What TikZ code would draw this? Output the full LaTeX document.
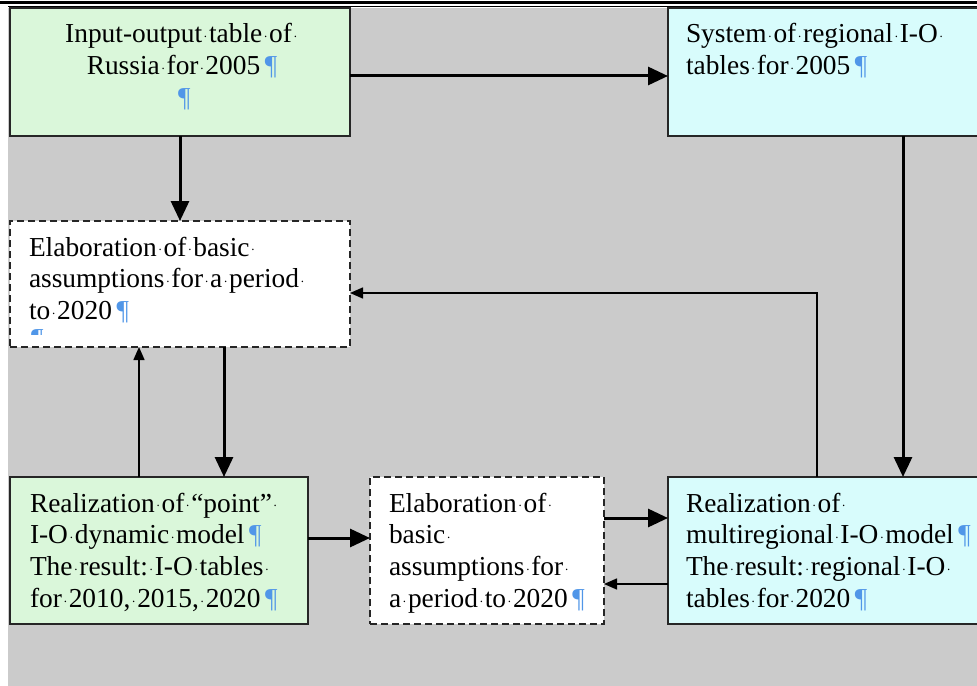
\documentclass[tikz,border=0pt]{standalone}
\usepackage{fontspec}
\setmainfont{Liberation Serif}
\usetikzlibrary{arrows.meta}
\definecolor{bg}{RGB}{203,203,203}
\definecolor{gfill}{RGB}{218,247,218}
\definecolor{cfill}{RGB}{216,252,252}
\definecolor{pil}{RGB}{80,150,232}
\newcommand\spc{\makebox[0.25em]{\raisebox{0.2em}{\fontsize{13}{13}\selectfont.}}}
\newcommand\pil{\,{\color{pil}¶}}
\begin{document}
\begin{tikzpicture}[x=1bp,y=-1bp,
  every node/.style={inner sep=0pt, outer sep=0pt},
  box/.style={draw=black!85, line width=1.5bp, rectangle, anchor=north west},
  gbox/.style={box, fill=gfill},
  cbox/.style={box, fill=cfill},
  dbox/.style={box, fill=white, dash pattern=on 7bp off 4bp},
  txt/.style={font=\fontsize{27.5}{32}\selectfont, anchor=base west, align=left, text width=330bp},
  bigarrow/.style={line width=3bp, -{Triangle[length=20bp,width=18bp]}},
  smallarrow/.style={line width=1.5bp, -{Triangle[length=13bp,width=11bp]}},
]
\clip (0,0) rectangle (977,686);
\fill[white] (0,0) rectangle (977,686);
\fill[bg] (8,8) rectangle (977,686);
\draw[line width=3bp] (0,3) -- (977,3);
\draw[line width=1bp] (8,7) -- (977,7);

% boxes
\node[gbox, minimum width=340bp, minimum height=128bp] (A) at (10,8) {};
\node[cbox, minimum width=322bp, minimum height=128bp] (B) at (668,8) {};
\node[dbox, minimum width=340bp, minimum height=126bp] (C) at (10,221) {};
\node[gbox, minimum width=298bp, minimum height=147bp] (D) at (10,477) {};
\node[dbox, minimum width=234bp, minimum height=147bp] (F) at (370,477) {};
\node[cbox, minimum width=322bp, minimum height=147bp] (E) at (668,477) {};

% texts
\node[txt, anchor=base, align=center, text width=340bp] (tA) at (182,43)
  {Input-output\spc table\spc of\spc\\Russia\spc for\spc 2005\pil\\\pil};
\node[txt] (tB) at (686,43) {System\spc of\spc regional\spc I-O\spc\\tables\spc for\spc 2005\pil};
\node[txt] (tC) at (29,256) {Elaboration\spc of\spc basic\spc\\assumptions\spc for\spc a\spc period\spc\\to\spc 2020\pil};
\begin{scope}
  \clip (28,327) rectangle (48,334);
  \node[txt, text=pil] (tCp) at (31,347) {¶};
\end{scope}
\node[txt] (tD) at (30,512) {Realization\spc of\spc “point”\spc\\I-O\spc dynamic\spc model\pil\\The\spc result:\spc I-O\spc tables\spc\\for\spc 2010,\spc 2015,\spc 2020\pil};
\node[txt] (tF) at (389,512) {Elaboration\spc of\spc\\basic\spc\\assumptions\spc for\spc\\a\spc period\spc to\spc 2020\pil};
\node[txt] (tE) at (686,512) {Realization\spc of\spc\\multiregional\spc I-O\spc model\pil\\The\spc result:\spc regional\spc I-O\spc\\tables\spc for\spc 2020\pil};

% connectors
\coordinate (yAB) at (0,76);
\coordinate (xBE) at (903,0);
\coordinate (xEC) at (817,0);
\coordinate (yEC) at (0,293);
\coordinate (xCD) at (224,0);
\coordinate (xDC) at (139,0);
\coordinate (yDF) at (0,538);
\coordinate (yFE) at (0,518);
\coordinate (yEF) at (0,584);
\draw[bigarrow] (A.east |- yAB) -- (B.west |- yAB);
\draw[bigarrow] (A.south) -- (C.north);
\draw[bigarrow] (B.south -| xBE) -- (E.north -| xBE);
\draw[smallarrow] (E.north -| xEC) |- (C.east |- yEC);
\draw[bigarrow] (C.south -| xCD) -- (D.north -| xCD);
\draw[smallarrow] (D.north -| xDC) -- (C.south -| xDC);
\draw[bigarrow] (D.east |- yDF) -- (F.west |- yDF);
\draw[bigarrow] (F.east |- yFE) -- (E.west |- yFE);
\draw[smallarrow] (E.west |- yEF) -- (F.east |- yEF);
\end{tikzpicture}
\end{document}
